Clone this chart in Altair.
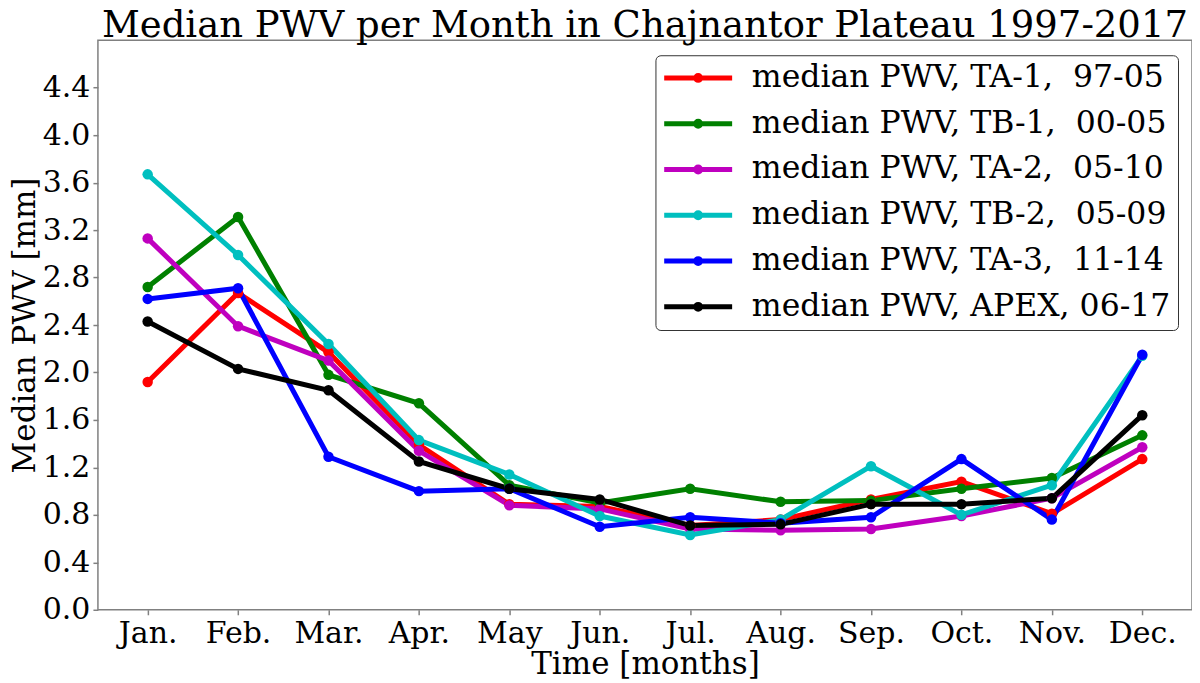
import altair as alt
import pandas as pd

month_labels = ["Jan.", "Feb.", "Mar.", "Apr.", "May", "Jun.", "Jul.", "Aug.", "Sep.", "Oct.", "Nov.", "Dec."]
month_num = list(range(1, 13))

series_names = [
    "median PWV, TA-1,\u00a0 97-05",
    "median PWV, TB-1,\u00a0 00-05",
    "median PWV, TA-2,\u00a0 05-10",
    "median PWV, TB-2,\u00a0 05-09",
    "median PWV, TA-3,\u00a0 11-14",
    "median PWV, APEX, 06-17",
]
series_colors = ["#ff0000", "#008000", "#bf00bf", "#00bfbf", "#0000ff", "#000000"]

ta1 = [1.92, 2.67, 2.17, 1.39, 0.89, 0.87, 0.71, 0.76, 0.93, 1.08, 0.81, 1.27]
tb1 = [2.72, 3.31, 1.98, 1.74, 1.05, 0.90, 1.02, 0.91, 0.92, 1.02, 1.11, 1.47]
ta2 = [3.13, 2.39, 2.10, 1.34, 0.88, 0.85, 0.68, 0.67, 0.68, 0.79, 0.94, 1.37]
tb2 = [3.67, 2.99, 2.24, 1.43, 1.14, 0.79, 0.63, 0.76, 1.21, 0.80, 1.05, 2.14]
ta3 = [2.62, 2.71, 1.29, 1.00, 1.02, 0.70, 0.78, 0.73, 0.78, 1.27, 0.76, 2.15]
apex = [2.43, 2.03, 1.85, 1.25, 1.02, 0.93, 0.71, 0.72, 0.89, 0.89, 0.94, 1.64]

y_ticks = [0.0, 0.4, 0.8, 1.2, 1.6, 2.0, 2.4, 2.8, 3.2, 3.6, 4.0, 4.4]

rows = []
for name, vals in zip(series_names, [ta1, tb1, ta2, tb2, ta3, apex]):
    for m, v in zip(month_num, vals):
        rows.append({"month": m, "pwv": v, "series": name})
df = pd.DataFrame(rows)

label_expr = "[" + ",".join("'" + m + "'" for m in month_labels) + "][datum.value - 1]"

# legend glyph: a line with a dot in the middle (path units scaled by sqrt(size)/2 = 10 px)
sym = "M-3.4,0L3.4,0M-0.24,0A0.24,0.24,0,1,1,0.24,0A0.24,0.24,0,1,1,-0.24,0Z"

FONT = "DejaVu Serif"

chart = alt.Chart(df).mark_line(
    strokeWidth=5,
    point=alt.OverlayMarkDef(filled=True, size=110, opacity=1),
).encode(
    x=alt.X(
        "month:Q",
        scale=alt.Scale(domain=[0.45, 12.55], nice=False, zero=False),
        axis=alt.Axis(values=month_num, labelExpr=label_expr, title="Time [months]",
                      labelPadding=4, titlePadding=1),
    ),
    y=alt.Y(
        "pwv:Q",
        scale=alt.Scale(domain=[0, 4.8], nice=False),
        axis=alt.Axis(values=y_ticks, format=".1f", title="Median PWV [mm]",
                      labelPadding=3, titlePadding=1),
    ),
    color=alt.Color(
        "series:N",
        sort=series_names,
        scale=alt.Scale(domain=series_names, range=series_colors),
        legend=alt.Legend(
            title=None,
            orient="none",
            legendX=558,
            legendY=15,
            symbolType=sym,
            symbolSize=400,
            symbolStrokeWidth=5,
            symbolOpacity=1,
            symbolOffset=20,
            labelFont=FONT,
            labelFontSize=31.5,
            labelColor="black",
            labelLimit=1000,
            labelOffset=38,
            labelBaseline="middle",
            rowPadding=12.8,
            padding=7,
            strokeColor="#333333",
            cornerRadius=5,
            fillColor="white",
        ),
    ),
).properties(
    width=1095,
    height=570,
    padding={"left": 90, "top": 32, "right": 0, "bottom": 73},
    autosize=alt.AutoSizeParams(type="none"),
    title=alt.Title(
        "Median PWV per Month in Chajnantor Plateau 1997-2017",
        font=FONT,
        fontSize=37,
        fontWeight="normal",
        color="black",
        anchor="middle",
        offset=-5,
    ),
).configure(
    background="white",
).configure_view(
    stroke="#808080",
    strokeWidth=1.5,
).configure_axis(
    labelFont=FONT,
    labelFontSize=30,
    labelColor="black",
    titleFont=FONT,
    titleFontSize=31,
    titleFontWeight="normal",
    titleColor="black",
    tickColor="#808080",
    tickSize=5,
    tickWidth=1.5,
    domain=False,
    grid=False,
)

chart.save("out.html", embed_options={"renderer": "svg", "actions": False})
